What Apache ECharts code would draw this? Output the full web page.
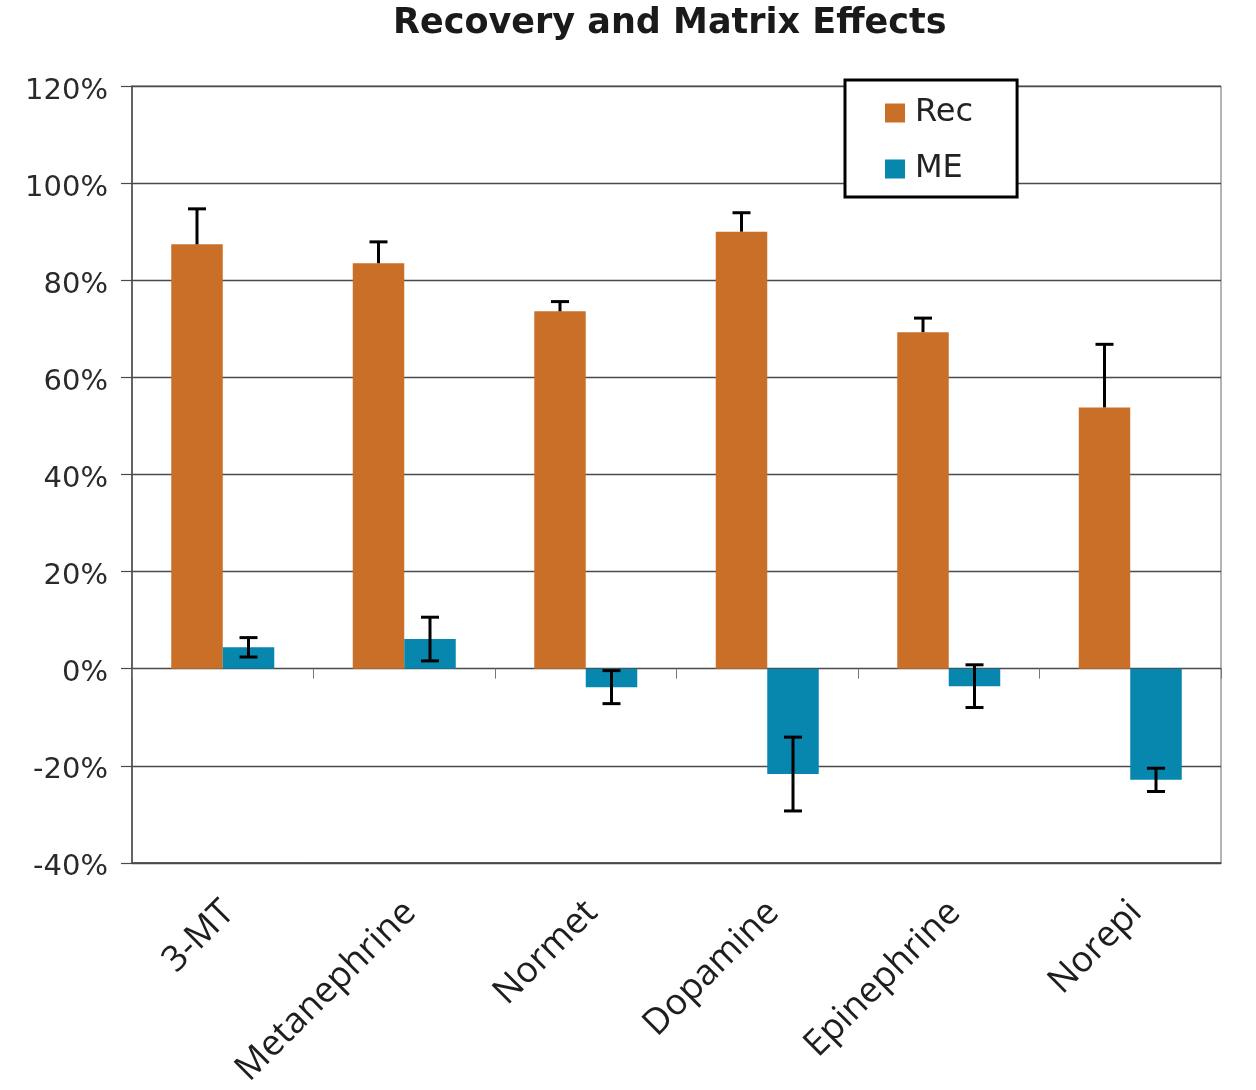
<!DOCTYPE html>
<html>
<head>
<meta charset="utf-8">
<script src="https://cdn.jsdelivr.net/npm/echarts@6/dist/echarts.min.js"></script>
<style>html,body{margin:0;padding:0;background:#fff}#chart{width:1256px;height:1090px}</style>
</head>
<body>
<div id="chart"></div>
<script>
const categories = ['3-MT', 'Metanephrine', 'Normet', 'Dopamine', 'Epinephrine', 'Norepi'];
const recValues = [87.4, 83.5, 73.6, 90.0, 69.3, 53.8];
const recErrors = [7.3, 4.4, 2.0, 3.9, 2.9, 13.0];
const meValues = [4.4, 6.1, -3.8, -21.7, -3.6, -22.9];
const meErrors = [2.0, 4.5, 3.4, 7.6, 4.4, 2.4];
const yTicks = { min: -40, max: 120, interval: 20 };

const FONT = 'DejaVu Sans';
const BAR_W = 51.5;
const REC_COLOR = '#C96F28';
const ME_COLOR = '#0786AE';

function errorRenderer(offset, bothSides) {
  return function (params, api) {
    const ci = api.value(0), v = api.value(1), e = api.value(2);
    const top = api.coord([ci, v + e]);
    const bot = api.coord([ci, bothSides ? v - e : v]);
    const x = top[0] + offset;
    const cap = 9;
    const style = { stroke: '#000', lineWidth: 3 };
    const children = [
      { type: 'line', shape: { x1: x, y1: top[1], x2: x, y2: bot[1] }, style },
      { type: 'line', shape: { x1: x - cap, y1: top[1], x2: x + cap, y2: top[1] }, style }
    ];
    if (bothSides) children.push({ type: 'line', shape: { x1: x - cap, y1: bot[1], x2: x + cap, y2: bot[1] }, style });
    return { type: 'group', children };
  };
}

const chart = echarts.init(document.getElementById('chart'));
chart.setOption({
  backgroundColor: '#fff',
  animation: false,
  title: {
    text: 'Recovery and Matrix Effects',
    left: 388, top: 1,
    textStyle: { fontFamily: FONT, fontWeight: 'bold', fontSize: 35, color: '#1a1a1a' }
  },
  legend: {
    data: ['Rec', 'ME'],
    orient: 'vertical',
    left: 845, top: 80,
    padding: [17, 44, 12, 40],
    itemGap: 24,
    itemWidth: 20, itemHeight: 19,
    icon: 'rect',
    backgroundColor: '#fff',
    borderColor: '#000', borderWidth: 3,
    textStyle: { fontFamily: FONT, fontSize: 32, color: '#222', padding: [0, 0, 0, 5] }
  },
  grid: {
    left: 132, right: 35, top: 86, bottom: 226,
    show: true, borderColor: '#6a6a6a', borderWidth: 1
  },
  xAxis: [
    {
      type: 'category', data: categories, position: 'bottom',
      axisLine: { onZero: false, lineStyle: { color: '#4a4a4a', width: 1.5 } },
      axisTick: { show: false },
      axisLabel: { rotate: 45, margin: 38, verticalAlign: 'top', lineHeight: 17, fontFamily: 'Open Sans', fontSize: 36, color: '#1e1e1e', interval: 0 }
    },
    {
      type: 'category', data: categories, position: 'bottom',
      axisLine: { onZero: true, lineStyle: { color: '#4a4a4a', width: 1.2 } },
      axisTick: { show: true, length: 10, lineStyle: { color: '#777', width: 1 } },
      axisLabel: { show: false }
    }
  ],
  yAxis: {
    type: 'value', min: yTicks.min, max: yTicks.max, interval: yTicks.interval,
    axisLine: { show: true, lineStyle: { color: '#4a4a4a', width: 1.5 } },
    axisTick: { show: true, length: 11, lineStyle: { color: '#4a4a4a', width: 1.2 } },
    splitLine: { show: true, lineStyle: { color: '#4a4a4a', width: 1.3 } },
    axisLabel: { margin: 24, verticalAlign: 'top', lineHeight: 10, fontFamily: FONT, fontSize: 29, color: '#2a2a2a', formatter: v => v + '%' }
  },
  series: [
    { name: 'Rec', type: 'bar', xAxisIndex: 0, data: recValues, barWidth: BAR_W, barGap: '0%', itemStyle: { color: REC_COLOR } },
    { name: 'ME', type: 'bar', xAxisIndex: 0, data: meValues, barWidth: BAR_W, barGap: '0%', itemStyle: { color: ME_COLOR } },
    {
      type: 'custom', xAxisIndex: 0, z: 10,
      renderItem: errorRenderer(-BAR_W / 2, false),
      data: recValues.map((v, i) => [i, v, recErrors[i]])
    },
    {
      type: 'custom', xAxisIndex: 0, z: 10,
      renderItem: errorRenderer(BAR_W / 2, true),
      data: meValues.map((v, i) => [i, v, meErrors[i]])
    }
  ]
});
</script>
</body>
</html>
